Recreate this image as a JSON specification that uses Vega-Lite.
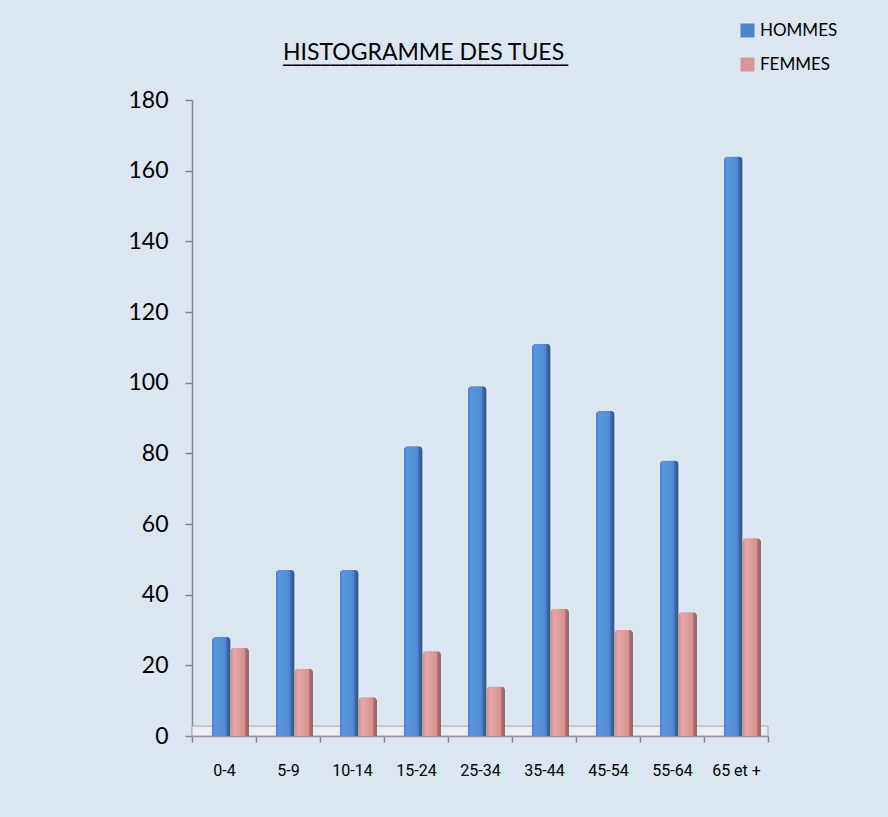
{
  "$schema": "https://vega.github.io/schema/vega-lite/v6.json",
  "width": 576,
  "height": 636,
  "autosize": {"type": "none"},
  "padding": {"left": 192, "top": 100, "right": 120, "bottom": 81},
  "background": "#dce6f2",
  "config": {"view": {"stroke": null}, "font": "Lato"},
  "title": {
    "text": "HISTOGRAMME DES TUES",
    "subtitle": "______________________________",
    "anchor": "start",
    "frame": "group",
    "dx": 91,
    "font": "Lato",
    "fontSize": 23,
    "fontWeight": "normal",
    "color": "#000000",
    "subtitleFont": "DejaVu Sans Mono",
    "subtitleFontSize": 15.8,
    "subtitleFontWeight": "bold",
    "subtitleColor": "#000000",
    "subtitlePadding": -15,
    "offset": -43
  },
  "layer": [
    {
      "data": {"values": [{"floor": 1}]},
      "mark": {"type": "rect", "fill": "#e9eef5", "stroke": "#a6a6a6", "strokeWidth": 1},
      "encoding": {
        "y": {
          "datum": 0,
          "type": "quantitative",
          "scale": {"domain": [0, 180]},
          "axis": {
            "title": null,
            "grid": false,
            "values": [0, 20, 40, 60, 80, 100, 120, 140, 160, 180],
            "labelFont": "Lato",
            "labelFontSize": 23,
            "labelColor": "#000000",
            "labelPadding": 17,
            "domainColor": "#868686",
            "domainWidth": 1.5,
            "tickColor": "#868686",
            "tickWidth": 1.5,
            "tickSize": 7
          }
        },
        "y2": {"datum": 2.8}
      }
    },
    {
      "data": {
        "values": [
          {"age": "0-4", "sexe": "HOMMES", "n": 28},
          {"age": "5-9", "sexe": "HOMMES", "n": 47},
          {"age": "10-14", "sexe": "HOMMES", "n": 47},
          {"age": "15-24", "sexe": "HOMMES", "n": 82},
          {"age": "25-34", "sexe": "HOMMES", "n": 99},
          {"age": "35-44", "sexe": "HOMMES", "n": 111},
          {"age": "45-54", "sexe": "HOMMES", "n": 92},
          {"age": "55-64", "sexe": "HOMMES", "n": 78},
          {"age": "65 et +", "sexe": "HOMMES", "n": 164},
          {"age": "0-4", "sexe": "FEMMES", "n": 25},
          {"age": "5-9", "sexe": "FEMMES", "n": 19},
          {"age": "10-14", "sexe": "FEMMES", "n": 11},
          {"age": "15-24", "sexe": "FEMMES", "n": 24},
          {"age": "25-34", "sexe": "FEMMES", "n": 14},
          {"age": "35-44", "sexe": "FEMMES", "n": 36},
          {"age": "45-54", "sexe": "FEMMES", "n": 30},
          {"age": "55-64", "sexe": "FEMMES", "n": 35},
          {"age": "65 et +", "sexe": "FEMMES", "n": 56}
        ]
      },
      "encoding": {
        "x": {
          "field": "age",
          "type": "nominal",
          "sort": null,
          "scale": {"paddingInner": 0, "paddingOuter": 0},
          "axis": {
            "title": null,
            "labelAngle": 0,
            "labelFont": "Roboto",
            "labelFontSize": 16,
            "labelColor": "#000000",
            "labelPadding": 20,
            "domainColor": "#868686",
            "domainWidth": 1.5,
            "tickColor": "#868686",
            "tickWidth": 1.5,
            "tickSize": 6,
            "tickBand": "extent"
          }
        },
        "xOffset": {
          "field": "sexe",
          "type": "nominal",
          "sort": ["HOMMES", "FEMMES"],
          "scale": {"paddingInner": 0, "paddingOuter": 0.73, "align": 0.74}
        },
        "y": {
          "field": "n",
          "type": "quantitative",
          "scale": {"domain": [0, 180]},
          "axis": {
            "title": null,
            "grid": false,
            "values": [0, 20, 40, 60, 80, 100, 120, 140, 160, 180],
            "labelFont": "Lato",
            "labelFontSize": 23,
            "labelColor": "#000000",
            "labelPadding": 17,
            "domainColor": "#868686",
            "domainWidth": 1.5,
            "tickColor": "#868686",
            "tickWidth": 1.5,
            "tickSize": 7
          }
        }
      },
      "layer": [
        {
          "mark": {"type": "bar", "cornerRadiusTopLeft": 4, "cornerRadiusTopRight": 4},
          "encoding": {
            "color": {
              "field": "sexe",
              "type": "nominal",
              "scale": {"domain": ["HOMMES", "FEMMES"], "range": ["#4f84c9", "#d99694"]},
              "legend": {
                "orient": "none",
                "legendX": 547,
                "legendY": -78,
                "title": null,
                "labelFont": "Lato",
                "labelFontSize": 17,
                "labelColor": "#000000",
                "symbolType": "square",
                "symbolSize": 196,
                "symbolStrokeWidth": 0,
                "rowPadding": 16,
                "labelOffset": 4
              }
            }
          }
        },
        {
          "transform": [{"filter": "datum.sexe === 'HOMMES'"}],
          "mark": {
            "type": "bar",
            "cornerRadiusTopLeft": 4,
            "cornerRadiusTopRight": 4,
            "fill": {
              "gradient": "linear",
              "x1": 0, "y1": 0, "x2": 1, "y2": 0,
              "stops": [
                {"offset": 0, "color": "#4a80c8"},
                {"offset": 0.15, "color": "#5a94dc"},
                {"offset": 0.5, "color": "#5590d8"},
                {"offset": 0.76, "color": "#4e88d0"},
                {"offset": 0.8, "color": "#3c68a2"},
                {"offset": 1, "color": "#33598c"}
              ]
            }
          }
        },
        {
          "transform": [{"filter": "datum.sexe === 'FEMMES'"}],
          "mark": {
            "type": "bar",
            "cornerRadiusTopLeft": 4,
            "cornerRadiusTopRight": 4,
            "fill": {
              "gradient": "linear",
              "x1": 0, "y1": 0, "x2": 1, "y2": 0,
              "stops": [
                {"offset": 0, "color": "#d68c8b"},
                {"offset": 0.2, "color": "#e6a5a4"},
                {"offset": 0.55, "color": "#df9998"},
                {"offset": 0.78, "color": "#d48e8d"},
                {"offset": 0.82, "color": "#a97170"},
                {"offset": 1, "color": "#9a6463"}
              ]
            }
          }
        }
      ]
    }
  ]
}
